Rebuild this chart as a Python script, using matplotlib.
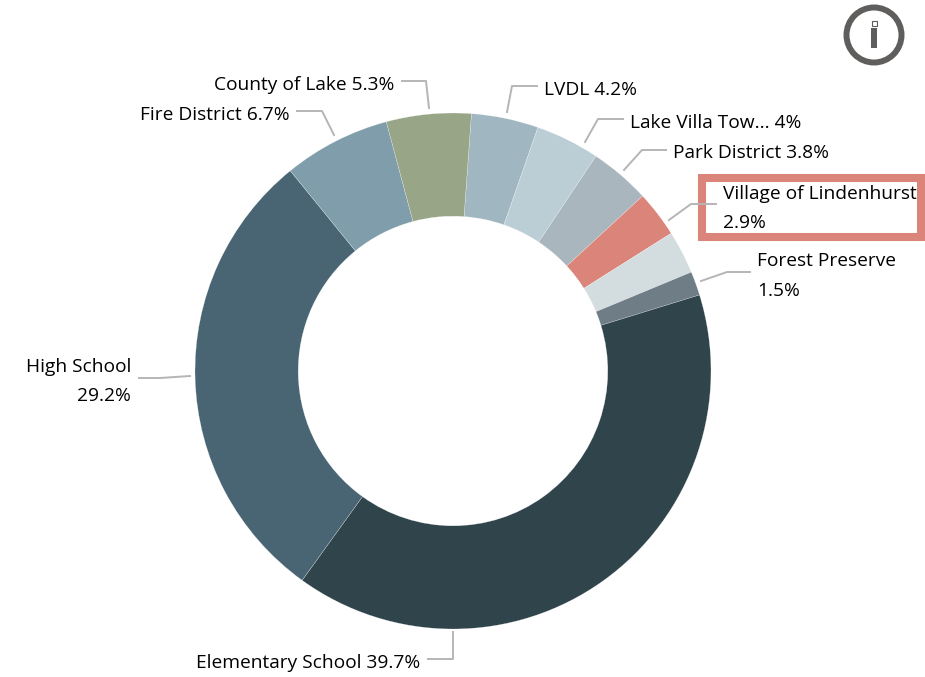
import matplotlib
matplotlib.use("Agg")
import matplotlib.pyplot as plt
from matplotlib.patches import Circle, Rectangle

plt.rcParams["font.family"] = ["Open Sans", "DejaVu Sans"]

# Data, clockwise from the LVDL slice
names = ["LVDL", "Lake Villa Tow...", "Park District", "Village of Lindenhurst", "Other",
         "Forest Preserve", "Elementary School", "High School", "Fire District", "County of Lake"]
shares = [4.2, 4.0, 3.8, 2.9, 2.7, 1.5, 39.7, 29.2, 6.7, 5.3]
colors = ["#A0B6C0", "#BCCED5", "#A9B6BE", "#DB847A", "#D3DCDF",
          "#6E7D86", "#30444C", "#496573", "#7F9DAB", "#98A587"]

# Labels: text, x, y, ha
labels = [
    ("County of Lake 5.3%", 394, 85, "right"),
    ("LVDL 4.2%", 544, 90, "left"),
    ("Fire District 6.7%", 290, 115, "right"),
    ("Lake Villa Tow... 4%", 630, 123, "left"),
    ("Park District 3.8%", 673, 153, "left"),
    ("Village of Lindenhurst", 723, 194, "left"),
    ("2.9%", 723, 223, "left"),
    ("Forest Preserve", 757, 261, "left"),
    ("1.5%", 757, 291, "left"),
    ("High School", 131, 367, "right"),
    ("29.2%", 131, 396, "right"),
    ("Elementary School 39.7%", 420, 663, "right"),
]

# Leader lines in pixels
leaders = [
    [(429, 108), (426, 81), (402, 81)],
    [(507, 112), (512, 86), (537, 86)],
    [(334, 135), (322, 111), (297, 111)],
    [(585, 142), (598, 119), (623, 119)],
    [(624, 170), (642, 150), (666, 150)],
    [(669, 220), (691, 204), (716, 204)],
    [(701, 281), (727, 272), (750, 272)],
    [(190, 376), (160, 378), (139, 378)],
    [(453, 632), (453, 659), (428, 659)],
]

W, H = 925, 677
fig = plt.figure(figsize=(W / 100, H / 100), dpi=100)

# Donut
cx, cy, R = 453, 371, 258
ax = fig.add_axes([(cx - R) / W, 1 - (cy + R) / H, 2 * R / W, 2 * R / H])
ax.pie(shares, colors=colors, startangle=90 - 4.1, counterclock=False, radius=1,
       wedgeprops={"width": 0.4, "edgecolor": "white", "linewidth": 0.15})
ax.set_xlim(-1, 1)
ax.set_ylim(-1, 1)

# Overlay in pixel coordinates
ov = fig.add_axes([0, 0, 1, 1])
ov.set_xlim(0, W)
ov.set_ylim(H, 0)
ov.axis("off")
ov.patch.set_alpha(0)

for pts in leaders:
    ov.plot([p[0] for p in pts], [p[1] for p in pts], color="#B5B5B5", lw=1.4)

for txt, x, y, ha in labels:
    ov.text(x, y, txt, ha=ha, va="center", fontsize=13.75, color="black")

# Highlight box
ov.add_patch(Rectangle((702, 177.5), 219, 59.5, fill=False, edgecolor="#DB847A", lw=5.8))

# Info icon
ov.add_patch(Circle((874, 35), 27.5, fill=False, edgecolor="#5F5E5C", lw=4.3))
ov.add_patch(Rectangle((871, 28), 6, 20, color="#5F5E5C", lw=0))
ov.add_patch(Rectangle((871.5, 20.5), 5, 5, facecolor="white", edgecolor="#5F5E5C", lw=0.8))

fig.savefig("out.png", dpi=100)
